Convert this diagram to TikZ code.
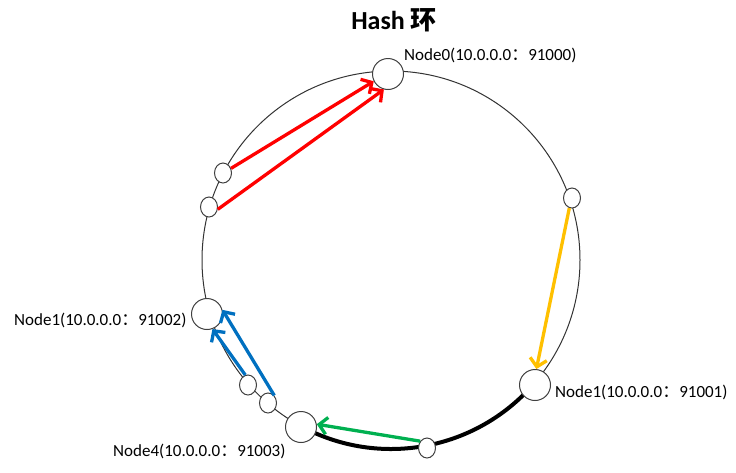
\documentclass[tikz,border=0pt]{standalone}
\usepackage{fontspec}
\setmainfont{Carlito}
\newfontfamily\cjkfont{Noto Sans CJK SC}
\usetikzlibrary{arrows.meta,calc,shapes.geometric,positioning}
\definecolor{hashred}{RGB}{255,0,0}
\definecolor{hashgold}{RGB}{255,192,0}
\definecolor{hashblue}{RGB}{0,112,192}
\definecolor{hashgreen}{RGB}{0,176,80}
\tikzset{
    server/.style={draw=black!75,fill=white,circle,inner sep=0pt,minimum size=31pt,line width=1pt},
    key/.style={draw=black!75,fill=white,ellipse,inner sep=0pt,minimum width=17pt,minimum height=20pt,line width=1pt},
    addr/.style={font=\fontsize{17}{20}\selectfont,anchor=base west,inner sep=0pt},
    move/.style={line width=3.3pt,-{Straight Barb[length=8pt,width=17pt]}}
}
\newcommand{\addrtext}[2]{Node#1(10.0.0.0{\cjkfont ：}#2)}

\begin{document}
\begin{tikzpicture}[x=1pt,y=-1pt]
    \useasboundingbox (0,0) rectangle (736,472);

    % the ring
    \coordinate (c) at (391,260);
    \draw [line width=1pt,black!80] (c) circle [radius=189];
    % thick part between Node1 and Node4
    \draw [line width=4pt] ($(c)+(41:189)$) arc [start angle=41,end angle=118,radius=189];

    % title
    \node [font=\bfseries\fontsize{26}{30}\selectfont] (title) at (394,20) {Hash {\cjkfont 环}};

    % servers on the ring
    \node [server] (n0) at (388,74) {};
    \node [server] (n1) at (535,385) {};
    \node [server] (n2) at (207,314) {};
    \node [server] (n3) at (301,427) {};

    % keys on the ring
    \node [key] (k1) at (223,173) {};
    \node [key] (k2) at (209,207) {};
    \node [key] (k3) at (248,385) {};
    \node [key] (k4) at (268,403) {};
    \node [key] (k5) at (427,448) {};
    \node [key] (k6) at (572,198) {};

    % addresses
    \node [addr] (a0) at (404,60) {\addrtext{0}{91000}};
    \node [addr] (a1) at (555,397) {\addrtext{1}{91001}};
    \node [addr] (a2) at (14,325) {\addrtext{1}{91002}};
    \node [addr] (a3) at (113,456) {\addrtext{4}{91003}};

    % keys go to the next server
    \draw [move,hashred] (k1.30) -- (n0.207);
    \draw [move,hashred] (k2.-15) -- (n0.255);
    \draw [move,hashgold] (k6.255) -- (n1.85);
    \draw [move,hashblue] (k3.105) -- (n2.-70);
    \draw [move,hashblue] (k4.50) -- (n2.15);
    \draw [move,hashgreen] (k5.135) -- (n3.10);
\end{tikzpicture}
\end{document}
